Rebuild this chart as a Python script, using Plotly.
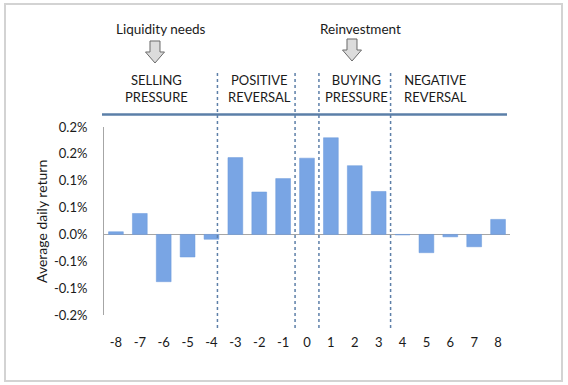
import plotly.graph_objects as go

# ---- data ----
days = [-8, -7, -6, -5, -4, -3, -2, -1, 0, 1, 2, 3, 4, 5, 6, 7, 8]
avg_return_pct = [0.005, 0.039, -0.088, -0.042, -0.009, 0.143, 0.079, 0.104, 0.142,
                  0.180, 0.128, 0.080, -0.001, -0.034, -0.0045, -0.023, 0.028]
y_tick_vals = [-0.15, -0.10, -0.05, 0.0, 0.05, 0.10, 0.15, 0.20]
y_tick_text = ["-0.2%", "-0.1%", "-0.1%", "0.0%", "0.1%", "0.1%", "0.2%", "0.2%"]
phase_labels = ["SELLING<br>PRESSURE", "POSITIVE<br>REVERSAL", "BUYING<br>PRESSURE", "NEGATIVE<br>REVERSAL"]
phase_centers = [-6.3, -2.0, 2.08, 5.4]
phase_bounds = [-3.75, -0.5, 0.5, 3.5]
trigger_labels = ["Liquidity needs", "Reinvestment"]

W, H = 568, 385
L, R, T, B = 104, 58, 127, 70
pw, ph = W - L - R, H - T - B

def px_x(px):
    return (px - L) / pw

def px_y(py):
    return (H - B - py) / ph

FONT = "Lato, 'Open Sans', sans-serif"

fig = go.Figure()
fig.add_trace(go.Bar(
    x=days, y=avg_return_pct, width=0.62,
    marker=dict(color="#79a5e4", line=dict(color="#6b98da", width=0.5)),
    showlegend=False,
))

shapes = []
# outer frame
shapes.append(dict(type="rect", xref="paper", yref="paper",
                   x0=px_x(5), x1=px_x(562), y0=px_y(381), y1=px_y(4),
                   line=dict(color="#d3d3d3", width=2), fillcolor="rgba(0,0,0,0)", layer="below"))
# top separator line
shapes.append(dict(type="line", xref="paper", yref="paper",
                   x0=px_x(102), x1=px_x(507), y0=px_y(114.5), y1=px_y(114.5),
                   line=dict(color="#5b7fa8", width=2.5)))
# dotted phase boundaries
for b in phase_bounds:
    shapes.append(dict(type="line", xref="x", yref="paper", x0=b, x1=b,
                       y0=px_y(328), y1=px_y(72),
                       line=dict(color="#5d7fa8", width=1.5, dash="dot")))

# block arrows
def arrow(cx, top):
    pts = [(cx - 5, top), (cx + 5, top), (cx + 5, top + 11), (cx + 9.5, top + 11),
           (cx, top + 22), (cx - 9.5, top + 11), (cx - 5, top + 11)]
    d = "M " + " L ".join(f"{px_x(x):.5f},{px_y(y):.5f}" for x, y in pts) + " Z"
    return dict(type="path", xref="paper", yref="paper", path=d,
                fillcolor="#dcdcdc", line=dict(color="#6a6a6a", width=1))

shapes.append(arrow(155, 41))
shapes.append(arrow(352, 39))

annotations = []
for lbl, c in zip(phase_labels, phase_centers):
    annotations.append(dict(x=c, y=px_y(88), xref="x", yref="paper", text=lbl,
                            showarrow=False, font=dict(size=13, color="#1a1a1a", family=FONT),
                            xanchor="center", yanchor="middle"))
for lbl, cx in zip(trigger_labels, [161, 360]):
    annotations.append(dict(x=px_x(cx), y=px_y(29), xref="paper", yref="paper", text=lbl,
                            showarrow=False, font=dict(size=13.5, color="#1a1a1a", family=FONT),
                            xanchor="center", yanchor="middle"))
annotations.append(dict(x=px_x(41), y=px_y(222), xref="paper", yref="paper",
                        text="Average daily return", textangle=-90, showarrow=False,
                        font=dict(size=14, color="#1a1a1a", family=FONT),
                        xanchor="center", yanchor="middle"))

fig.update_layout(
    width=W, height=H,
    margin=dict(l=L, r=R, t=T, b=B, pad=0),
    paper_bgcolor="white", plot_bgcolor="white",
    shapes=shapes, annotations=annotations,
    font=dict(family=FONT, size=13, color="#1a1a1a"),
    bargap=0.4,
)
fig.update_xaxes(
    range=[-8.5, 8.5], tickmode="array", tickvals=days, ticktext=[str(d) for d in days],
    showgrid=False, showline=False, zeroline=False,
    ticks="outside", ticklen=15, tickcolor="rgba(0,0,0,0)",
    tickfont=dict(size=13, family=FONT, color="#1a1a1a"),
)
fig.update_yaxes(
    range=[-0.15, 0.20], tickmode="array", tickvals=y_tick_vals, ticktext=y_tick_text,
    showgrid=False, showline=True, linecolor="#a6a6a6", linewidth=1,
    zeroline=True, zerolinecolor="#a6a6a6", zerolinewidth=1.2,
    ticks="outside", ticklen=13, tickcolor="rgba(0,0,0,0)",
    tickfont=dict(size=13, family=FONT, color="#1a1a1a"),
)

fig.write_html("out.html", config={"displayModeBar": False},
               post_script="document.body.style.margin='0';")
